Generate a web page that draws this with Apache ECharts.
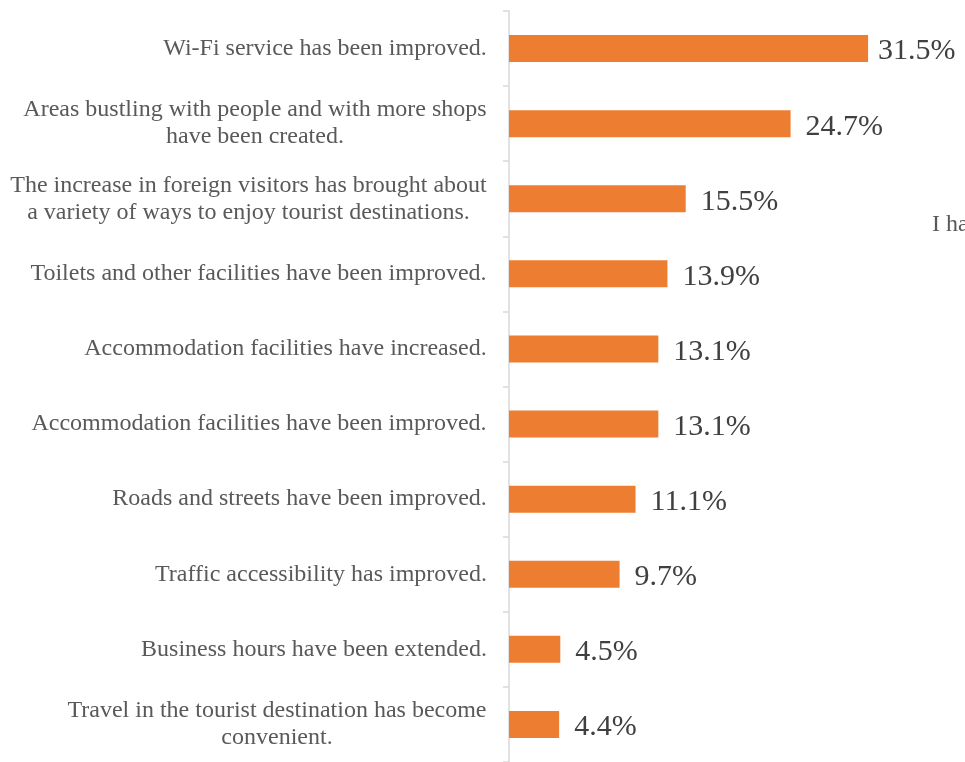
<!DOCTYPE html>
<html>
<head>
<meta charset="utf-8">
<script src="https://cdn.jsdelivr.net/npm/echarts@6/dist/echarts.min.js"></script>
<style>
  html, body { margin: 0; padding: 0; background: #fff; }
  #chart { width: 965px; height: 762px; }
</style>
</head>
<body>
<div id="chart"></div>
<script>
// Reported improvements at tourist destinations (share of respondents, %)
const categories = [
  'Wi-Fi service has been improved.',
  'Areas bustling with people and with more shops\nhave been created.',
  'The increase in foreign visitors has brought about\na variety of ways to enjoy tourist destinations.',
  'Toilets and other facilities have been improved.',
  'Accommodation facilities have increased.',
  'Accommodation facilities have been improved.',
  'Roads and streets have been improved.',
  'Traffic accessibility has improved.',
  'Business hours have been extended.',
  'Travel in the tourist destination has become\nconvenient.'
];
const shares = [31.5, 24.7, 15.5, 13.9, 13.1, 13.1, 11.1, 9.7, 4.5, 4.4];

const serif = '"Liberation Serif", "Times New Roman", serif';
const catFontSize = 24;
const catLineHeight = 27;
const catColor = '#595959';

// Multi-line category labels are centred line by line inside a block
// whose right edge sits next to the axis: give every label a rich style
// as wide as its longest line.
const measureCtx = document.createElement('canvas').getContext('2d');
measureCtx.font = catFontSize + 'px ' + serif;
const rich = {};
categories.forEach((c, i) => {
  const w = Math.max(...c.split('\n').map(s => measureCtx.measureText(s).width));
  rich['c' + i] = {
    width: Math.ceil(w),
    align: 'center',
    fontFamily: serif,
    fontSize: catFontSize,
    lineHeight: catLineHeight,
    color: catColor
  };
});

// The longest bar keeps its label a little closer so it stays on the canvas.
const barData = shares.map((v, i) => i === 0 ? { value: v, label: { distance: 10 } } : v);

const chart = echarts.init(document.getElementById('chart'));
chart.setOption({
  animation: false,
  grid: { left: 509, right: -4, top: 11, bottom: -5, containLabel: false },
  xAxis: {
    type: 'value',
    min: 0,
    max: 40,
    show: false
  },
  yAxis: {
    type: 'category',
    data: categories,
    inverse: true,
    axisLine: { show: true, lineStyle: { color: '#d9d9d9', width: 1.5 } },
    axisTick: { show: true, length: 6, lineStyle: { color: '#d9d9d9', width: 1.5 } },
    axisLabel: {
      margin: 22,
      align: 'right',
      color: catColor,
      fontFamily: serif,
      fontSize: catFontSize,
      lineHeight: catLineHeight,
      rich: rich,
      formatter: (v, i) => v.split('\n').map(s => '{c' + i + '|' + s + '}').join('\n')
    },
    splitLine: { show: false }
  },
  series: [{
    type: 'bar',
    data: barData,
    barWidth: 27,
    itemStyle: { color: '#ED7D31' },
    label: {
      show: true,
      position: 'right',
      distance: 15,
      offset: [0, 3],
      color: '#404040',
      fontFamily: serif,
      fontSize: 30,
      formatter: p => p.value.toFixed(1) + '%'
    }
  }],
  graphic: [{
    type: 'text',
    x: 932,
    y: 225,
    style: {
      text: 'I have not noticed any change.',
      fontFamily: serif,
      fontSize: 24,
      fill: catColor,
      verticalAlign: 'middle'
    }
  }]
});
</script>
</body>
</html>
